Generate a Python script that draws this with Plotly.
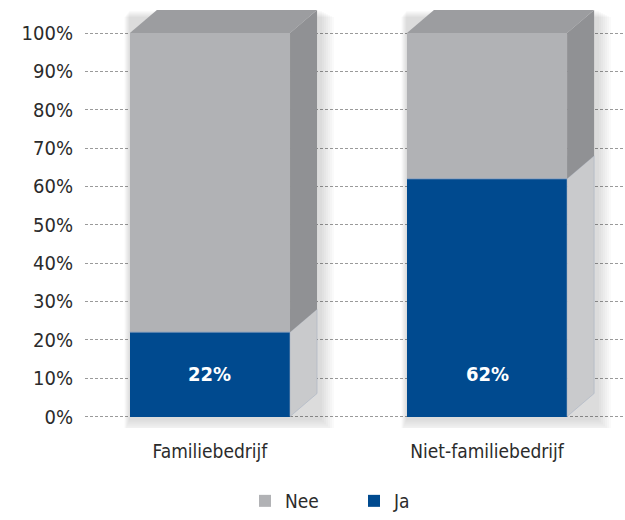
import plotly.graph_objects as go

# Share of companies answering "Ja" / "Nee", per company type (percent)
categories = ["Familiebedrijf", "Niet-familiebedrijf"]
ja = [22, 62]
nee = [78, 38]
y_ticks = [0, 10, 20, 30, 40, 50, 60, 70, 80, 90, 100]
y_tick_labels = [f"{v}%" for v in y_ticks]

FONT = "Liberation Sans Narrow, DejaVu Sans Condensed, Arial Narrow, sans-serif"
TEXT = "#2b2b2b"
BLUE = "#004a8f"
GREY_FRONT = "#b1b2b5"
GREY_TOP = "#9c9da0"
GREY_SIDE = "#909194"
LIGHT_SIDE = "#c9cacc"

x_pos = list(range(len(categories)))
bar_w = 0.578          # bar width in category units
depth_x = 0.0975       # 3D depth, horizontal (category units)
depth_y = 6.0          # 3D depth, vertical (percent units)
label_y = 11           # height of the value labels inside the blue segments

fig = go.Figure()
fig.add_trace(go.Bar(
    x=x_pos, y=ja, name="Ja", width=bar_w,
    marker=dict(color=BLUE, line=dict(width=0)),
))
fig.add_trace(go.Bar(
    x=x_pos, y=nee, base=ja, name="Nee", width=bar_w,
    marker=dict(color=GREY_FRONT, line=dict(width=0)),
))

shapes = []
hw = bar_w / 2
px_x = 1 / 277.0
px_y = 1 / 3.83
for c, j, n in zip(x_pos, ja, nee):
    top = j + n
    # soft drop shadow
    for s in range(2, 16, 2):
        shapes.append(dict(
            type="rect", layer="between", xref="x", yref="y",
            x0=c - hw - s * px_x * 0.4, x1=c + hw + depth_x + (s + 3) * px_x,
            y0=0 - (s + 2) * px_y, y1=top + depth_y - s * px_y * 0.5,
            fillcolor="rgba(0,0,0,0.02)", line=dict(width=0),
        ))
    r = c + hw
    # side face of the "Ja" segment
    shapes.append(dict(
        type="path", layer="above", xref="x", yref="y",
        path=f"M {r},0 L {r + depth_x},{depth_y} L {r + depth_x},{j + depth_y} L {r},{j} Z",
        fillcolor=LIGHT_SIDE, line=dict(color="#a9b3c4", width=0.6),
    ))
    # side face of the "Nee" segment
    shapes.append(dict(
        type="path", layer="above", xref="x", yref="y",
        path=f"M {r},{j} L {r + depth_x},{j + depth_y} L {r + depth_x},{top + depth_y} L {r},{top} Z",
        fillcolor=GREY_SIDE, line=dict(width=0),
    ))
    # top face
    l = c - hw
    shapes.append(dict(
        type="path", layer="above", xref="x", yref="y",
        path=f"M {l},{top} L {l + depth_x},{top + depth_y} L {r + depth_x},{top + depth_y} L {r},{top} Z",
        fillcolor=GREY_TOP, line=dict(width=0),
    ))
    # thin seam between the two segments
    shapes.append(dict(
        type="line", layer="above", xref="x", yref="y",
        x0=l, x1=r, y0=j, y1=j, line=dict(color="#8da3bf", width=1),
    ))

annotations = [
    dict(x=c, y=label_y, xref="x", yref="y", text=f"<b>{v}%</b>", showarrow=False,
         font=dict(color="white", size=20, family=FONT))
    for c, v in zip(x_pos, ja)
]

fig.update_layout(
    width=625, height=520,
    margin=dict(l=85, r=0, t=2, b=92),
    paper_bgcolor="white", plot_bgcolor="white",
    barmode="overlay", bargap=0,
    font=dict(family=FONT, color=TEXT),
    shapes=shapes,
    annotations=annotations,
    showlegend=True,
    legend=dict(
        orientation="h", traceorder="reversed",
        xref="container", yref="container",
        x=0.392, xanchor="left", y=0.0, yanchor="bottom",
        font=dict(size=19, family=FONT, color=TEXT),
        entrywidth=64, itemwidth=30,
    ),
    xaxis=dict(
        range=[-0.451, 1.498], tickvals=x_pos, ticktext=categories,
        showgrid=False, zeroline=False, showline=False, ticks="",
        tickfont=dict(size=19, family=FONT, color=TEXT),
        ticklabelstandoff=10, automargin=False,
    ),
    yaxis=dict(
        range=[-3, 108.1], tickvals=y_ticks, ticktext=y_tick_labels,
        showgrid=True, gridcolor="#9a9a9a", gridwidth=1, griddash="3px,2px",
        zeroline=False, showline=False, ticks="",
        tickfont=dict(size=20, family=FONT, color=TEXT),
        ticklabelstandoff=11, automargin=False,
    ),
)

fig.write_html("out.html")
